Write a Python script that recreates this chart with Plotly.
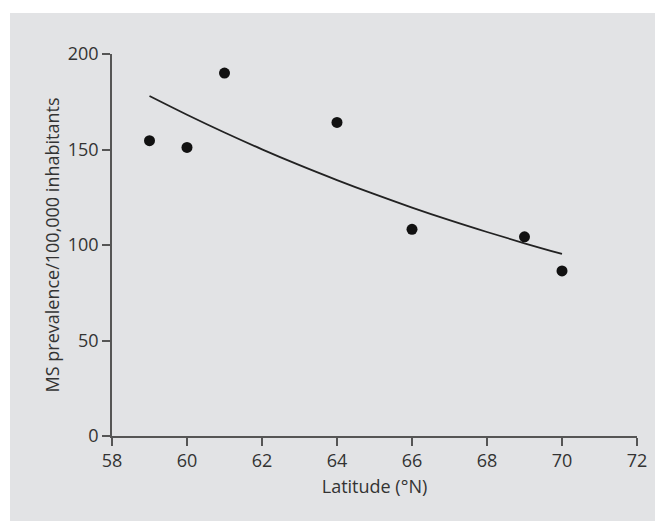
import plotly.graph_objects as go

# Data
latitude = [59, 60, 61, 64, 66, 69, 70]
prevalence = [154.6, 151.1, 190.0, 164.2, 108.2, 104.3, 86.4]

# Fitted trend curve
curve_lat = [59, 60, 61, 62, 63, 64, 65, 66, 67, 68, 69, 70]
curve_val = [178.0, 168.2, 158.9, 150.1, 141.8, 134.0, 126.6, 119.6, 113.0, 106.8, 100.9, 95.3]

x_ticks = [58, 60, 62, 64, 66, 68, 70, 72]
y_ticks = [0, 50, 100, 150, 200]

FONT = "Open Sans"
FS = 18
AXIS_COLOR = "#555555"
TEXT_COLOR = "#333333"

fig = go.Figure()
fig.add_trace(go.Scatter(
    x=curve_lat, y=curve_val, mode="lines",
    line=dict(color="#222222", width=1.8, shape="spline"),
    showlegend=False, hoverinfo="skip",
))
fig.add_trace(go.Scatter(
    x=latitude, y=prevalence, mode="markers",
    marker=dict(color="#111111", size=11),
    showlegend=False,
))

# page body adds an 8px offset; compensate in the margins
W, H = 663, 521
L, T = 104, 46
pw, ph = 525, 382
R, B = W - L - pw, H - T - ph

fig.add_shape(
    type="rect", xref="paper", yref="paper", layer="below",
    x0=(2 - L) / pw, x1=(W + 10 - L) / pw,
    y0=-(B + 10) / ph, y1=(T + ph - 5) / ph,
    fillcolor="#e2e3e5", line=dict(width=0),
)

fig.update_layout(
    width=W, height=H,
    margin=dict(l=L, r=R, t=T, b=B),
    paper_bgcolor="white",
    plot_bgcolor="rgba(0,0,0,0)",
    font=dict(family=FONT, size=FS, color=TEXT_COLOR),
    xaxis=dict(
        range=[58, 72], tickvals=x_ticks, ticktext=[str(v) for v in x_ticks],
        showgrid=False, zeroline=False,
        showline=True, linecolor=AXIS_COLOR, linewidth=1.5,
        ticks="outside", ticklen=8, tickwidth=1.5, tickcolor=AXIS_COLOR,
        tickfont=dict(family=FONT, size=FS, color=TEXT_COLOR),
        title=dict(text="Latitude (°N)", font=dict(family=FONT, size=FS, color=TEXT_COLOR), standoff=9),
    ),
    yaxis=dict(
        range=[0, 200], tickvals=y_ticks, ticktext=[str(v) for v in y_ticks],
        showgrid=False, zeroline=False,
        showline=True, linecolor=AXIS_COLOR, linewidth=1.5,
        ticks="outside", ticklen=8, tickwidth=1.5, tickcolor=AXIS_COLOR,
        tickfont=dict(family=FONT, size=FS, color=TEXT_COLOR),
        title=dict(text="MS prevalence/100,000 inhabitants", font=dict(family=FONT, size=FS, color=TEXT_COLOR), standoff=3),
    ),
)

fig.write_html("out.html")
